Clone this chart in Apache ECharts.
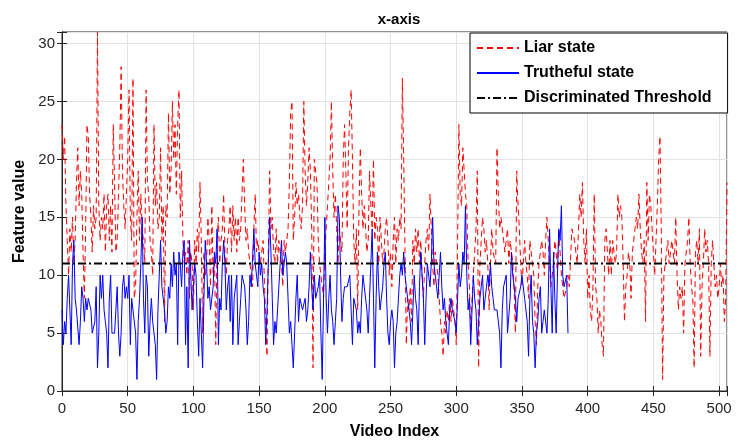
<!DOCTYPE html>
<html>
<head>
<meta charset="utf-8">
<script src="https://cdn.jsdelivr.net/npm/echarts@6/dist/echarts.min.js"></script>
<style>
  html, body { margin: 0; padding: 0; background: #fff; }
  #main { width: 738px; height: 441px; }
</style>
</head>
<body>
<div id="main"></div>
<script>
var liar = [
  23, 20, 22, 16, 13, 10, 14, 12, 15, 11,
  13, 18, 21, 16, 19, 17, 12, 8, 14, 23,
  22, 17, 15, 12, 16, 14, 15, 31, 16, 13,
  15, 14, 17, 12, 16, 17, 13, 16, 12, 23,
  18, 12, 13, 17, 21, 28, 19, 16, 14, 17,
  20, 26, 15, 13, 27, 8, 9, 15, 19, 13,
  17, 14, 13, 11, 26, 18, 17, 13, 12, 10,
  23, 16, 18, 14, 15, 21, 13, 16, 6, 16,
  15, 24, 17, 19, 25, 20, 23, 17, 23, 26,
  15, 19, 13, 11, 12, 10, 13, 8, 12, 11,
  7, 13, 11, 14, 12, 18, 13, 5, 12, 10,
  11, 15, 13, 9, 16, 10, 12, 4, 13, 15,
  11, 13, 14, 17, 12, 10, 13, 14, 16, 12,
  16, 13, 15, 12, 15, 13, 14, 17, 20, 16,
  13, 14, 12, 11, 10, 9, 14, 17, 12, 13,
  13, 11, 11, 13, 13, 6, 3, 12, 19, 14,
  15, 12, 11, 14, 11, 13, 12, 11, 9, 13,
  12, 13, 14, 18, 24, 25, 13, 15, 18, 16,
  17, 15, 14, 16, 25, 19, 16, 18, 21, 19,
  14, 2, 20, 19, 18, 13, 11, 10, 9, 8,
  12, 14, 16, 18, 20, 25, 19, 15, 17, 14,
  11, 14, 13, 12, 20, 23, 19, 14, 21, 24,
  26, 20, 13, 11, 14, 7, 16, 21, 17, 14,
  16, 14, 12, 13, 19, 16, 14, 20, 13, 15,
  14, 11, 15, 13, 11, 12, 14, 15, 13, 10,
  12, 9, 13, 15, 11, 14, 13, 15, 14, 27,
  20, 12, 4, 8, 7, 9, 6, 13, 11, 14,
  12, 14, 11, 13, 10, 8, 11, 13, 14, 12,
  17, 14, 11, 9, 12, 11, 10, 8, 6, 5,
  3, 6, 5, 7, 6, 8, 6, 8, 7, 6,
  4, 13, 23, 17, 16, 21, 19, 17, 16, 11,
  9, 5, 8, 10, 12, 14, 19, 2, 11, 13,
  15, 14, 12, 13, 11, 7, 11, 14, 12, 12,
  11, 21, 17, 14, 15, 14, 13, 12, 12, 14,
  11, 13, 12, 11, 9, 5, 19, 16, 14, 11,
  9, 11, 13, 11, 10, 8, 13, 12, 11, 10,
  6, 4, 9, 11, 11, 13, 12, 10, 13, 15,
  13, 11, 9, 9, 11, 13, 12, 10, 14, 12,
  10, 9, 8, 8, 9, 10, 9, 9, 14, 14,
  13, 12, 11, 14, 17, 15, 18, 13, 11, 14,
  8, 10, 7, 6, 9, 17, 9, 8, 5, 7,
  6, 4, 3, 13, 14, 12, 10, 13, 10, 13,
  12, 11, 12, 17, 15, 16, 15, 11, 6, 9,
  10, 12, 11, 8, 12, 13, 14, 15, 14, 17,
  14, 12, 11, 13, 6, 18, 13, 17, 16, 14,
  12, 10, 13, 16, 20, 22, 14, 1, 10, 11,
  12, 13, 11, 12, 13, 12, 11, 15, 10, 7,
  9, 8, 9, 5, 11, 12, 13, 15, 11, 9,
  8, 2, 12, 13, 11, 14, 3, 9, 11, 14,
  12, 13, 11, 3, 11, 13, 11, 9, 10, 8,
  9, 11, 9, 10, 6, 8, 18
];

var truthful = [
  7, 4, 6, 5, 8, 10, 7, 4, 11, 13,
  8, 7, 7, 4, 6, 9, 8, 6, 8, 7,
  8, 8, 7, 5, 5, 6, 9, 2, 5, 10,
  8, 10, 7, 6, 5, 2, 8, 10, 5, 5,
  5, 5, 9, 5, 3, 5, 9, 10, 8, 9,
  8, 10, 4, 8, 7, 7, 5, 1, 6, 8,
  11, 15, 8, 5, 10, 9, 3, 6, 8, 6,
  5, 4, 1, 7, 10, 13, 9, 9, 7, 5,
  6, 9, 8, 11, 9, 12, 10, 11, 4, 12,
  11, 9, 12, 13, 4, 9, 2, 13, 10, 7,
  9, 11, 10, 6, 3, 8, 5, 2, 8, 13,
  11, 8, 9, 7, 7, 9, 12, 11, 14, 4,
  8, 7, 11, 13, 11, 7, 9, 10, 6, 10,
  4, 8, 8, 10, 4, 6, 8, 10, 10, 9,
  7, 4, 6, 10, 9, 9, 14, 11, 10, 9,
  12, 10, 11, 9, 8, 4, 7, 11, 15, 12,
  8, 4, 6, 5, 7, 9, 11, 13, 10, 10,
  12, 11, 8, 5, 6, 4, 2, 5, 8, 10,
  6, 8, 8, 7, 7, 8, 6, 7, 9, 12,
  9, 7, 10, 8, 8, 9, 10, 5, 1, 8,
  15, 8, 5, 8, 10, 7, 6, 4, 6, 8,
  16, 15, 10, 6, 8, 9, 9, 9, 9, 10,
  10, 4, 8, 8, 7, 5, 6, 5, 8, 10,
  9, 9, 7, 5, 8, 11, 14, 8, 2, 8,
  12, 9, 7, 8, 9, 11, 12, 8, 5, 4,
  6, 7, 6, 2, 5, 6, 8, 10, 11, 10,
  12, 10, 9, 8, 7, 6, 4, 7, 10, 8,
  7, 4, 9, 12, 10, 8, 4, 8, 11, 10,
  9, 11, 15, 11, 10, 9, 8, 10, 12, 9,
  7, 8, 6, 5, 4, 7, 8, 7, 7, 6,
  5, 8, 11, 9, 10, 12, 11, 16, 10, 7,
  8, 4, 7, 10, 8, 7, 4, 6, 8, 9,
  10, 7, 8, 9, 10, 9, 11, 9, 8, 7,
  7, 7, 6, 5, 2, 7, 9, 9, 10, 5,
  5, 8, 12, 10, 10, 8, 6, 8, 8, 9,
  10, 9, 8, 7, 6, 3, 8, 10, 6, 5,
  2, 5, 6, 8, 9, 5, 6, 7, 6, 5,
  8, 14, 9, 5, 12, 8, 5, 10, 14, 13,
  16, 10, 9, 9, 10, 5
];

var thresholdX = [0, 506];
var thresholdY = [11, 11];

var xTicks = [0, 50, 100, 150, 200, 250, 300, 350, 400, 450, 500];
var yTicks = [0, 5, 10, 15, 20, 25, 30];

function pairs(vals) {
  return vals.map(function (v, i) { return [i, v]; });
}

var myChart = echarts.init(document.getElementById('main'));

var axisColor = '#262626';
var font = 'Liberation Sans, Arial, sans-serif';

var option = {
  animation: false,
  backgroundColor: '#fff',
  title: {
    text: 'x-axis',
    left: 394,
    textAlign: 'center',
    top: 7,
    textStyle: { fontFamily: font, fontSize: 15, fontWeight: 'bold', color: '#000' }
  },
  grid: {
    left: 62, right: 11, top: 32, bottom: 50,
    outerBoundsMode: 'none',
    show: true, borderColor: axisColor, borderWidth: 1, backgroundColor: '#fff'
  },
  legend: {
    orient: 'vertical',
    left: 470,
    top: 33,
    padding: [7, 16, 7, 6],
    itemGap: 9,
    itemWidth: 42,
    itemHeight: 16,
    backgroundColor: '#fff',
    borderColor: '#000',
    borderWidth: 1,
    itemStyle: { opacity: 0 },
    textStyle: { fontFamily: font, fontSize: 16, fontWeight: 'bold', color: '#000', lineHeight: 16 },
    data: ['Liar state', 'Truthful state', 'Discriminated Threshold'],
    formatter: function (n) { return n === 'Truthful state' ? 'Trutheful state' : n; }
  },
  xAxis: [{
    type: 'value',
    min: 0, max: 506, interval: 50,
    name: 'Video Index',
    nameLocation: 'middle',
    nameGap: 33,
    nameTextStyle: { fontFamily: font, fontSize: 16, fontWeight: 'bold', color: '#000' },
    axisLine: { show: true, onZero: false, lineStyle: { color: axisColor } },
    axisTick: { inside: true, length: 5, lineStyle: { color: axisColor } },
    axisLabel: {
      margin: 10, fontFamily: font, fontSize: 15, color: axisColor,
      formatter: function (v) { return xTicks.indexOf(v) >= 0 ? String(v) : ''; }
    },
    splitLine: { show: true, lineStyle: { color: '#e3e3e3' } }
  }, {
    type: 'value', position: 'top',
    min: 0, max: 506, interval: 50,
    axisLine: { show: true, lineStyle: { color: axisColor } },
    axisTick: { inside: true, length: 5, lineStyle: { color: axisColor } },
    axisLabel: { show: false },
    splitLine: { show: false }
  }],
  yAxis: [{
    type: 'value',
    min: 0, max: 31, interval: 5,
    name: 'Feature value',
    nameLocation: 'middle',
    nameGap: 30,
    nameTextStyle: { fontFamily: font, fontSize: 16, fontWeight: 'bold', color: '#000' },
    axisLine: { show: true, onZero: false, lineStyle: { color: axisColor } },
    axisTick: { inside: true, length: 5, lineStyle: { color: axisColor } },
    axisLabel: {
      margin: 7, fontFamily: font, fontSize: 15, color: axisColor,
      formatter: function (v) { return yTicks.indexOf(v) >= 0 ? String(v) : ''; }
    },
    splitLine: { show: true, lineStyle: { color: '#e3e3e3' } }
  }, {
    type: 'value', position: 'right',
    min: 0, max: 31, interval: 5,
    axisLine: { show: true, lineStyle: { color: axisColor } },
    axisTick: { inside: true, length: 5, lineStyle: { color: axisColor } },
    axisLabel: { show: false },
    splitLine: { show: false }
  }],
  series: [{
    name: 'Liar state',
    type: 'line',
    data: pairs(liar),
    symbol: 'none',
    color: '#ff0000',
    lineStyle: { color: '#ff0000', width: 1, type: [6, 4] }
  }, {
    name: 'Truthful state',
    type: 'line',
    data: pairs(truthful),
    symbol: 'none',
    color: '#0000ff',
    lineStyle: { color: '#0000ff', width: 1 }
  }, {
    name: 'Discriminated Threshold',
    type: 'line',
    data: thresholdX.map(function (x, i) { return [x, thresholdY[i]]; }),
    symbol: 'none',
    color: '#000',
    lineStyle: { color: '#000', width: 2, type: [8, 3, 2, 3] }
  }]
};

myChart.setOption(option);
</script>
</body>
</html>
